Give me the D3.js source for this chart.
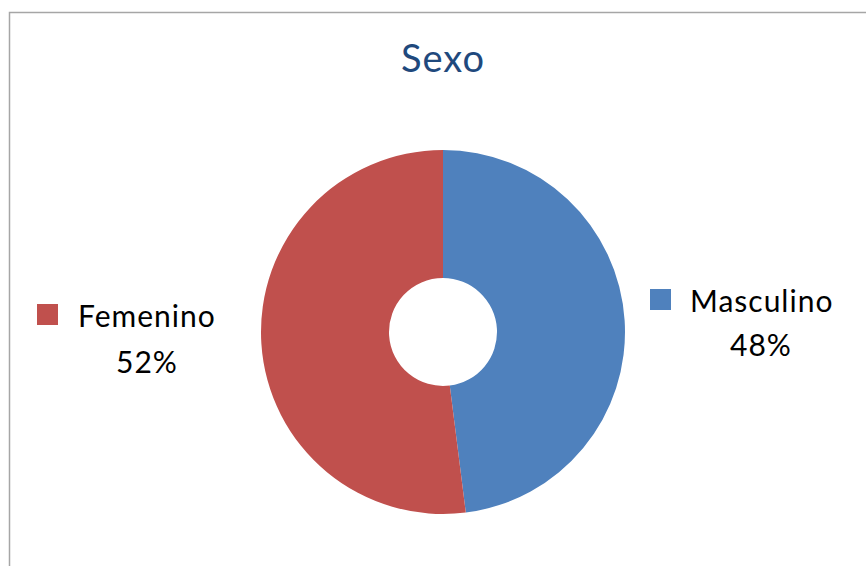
<!DOCTYPE html>
<html>
<head>
<meta charset="utf-8">
<script src="https://d3js.org/d3.v7.min.js"></script>
<style>
  body { margin: 0; background: #fff; }
  text { font-family: Lato, "Open Sans", sans-serif; }
</style>
</head>
<body>
<svg width="866" height="566"></svg>
<script>
const categories = ["Masculino", "Femenino"];
const values = [48, 52];
const colors = ["#4F81BD", "#C0504D"];

const svg = d3.select("svg");

// chart frame (runs off right and bottom edge)
svg.append("rect")
    .attr("x", 9.5).attr("y", 12.5)
    .attr("width", 880).attr("height", 600)
    .attr("fill", "none")
    .attr("stroke", "#a6a6a6")
    .attr("stroke-width", 1.5);

svg.append("text")
    .attr("x", 443).attr("y", 72)
    .attr("text-anchor", "middle")
    .attr("font-size", 38)
    .attr("letter-spacing", 1)
    .attr("fill", "#1F497D")
    .text("Sexo");

const data = categories.map((c, i) => ({ name: c, value: values[i], color: colors[i] }));
const pie = d3.pie().sort(null).value(d => d.value);
const arc = d3.arc().innerRadius(54).outerRadius(182);

svg.append("g")
    .attr("transform", "translate(443,332)")
    .selectAll("path").data(pie(data)).enter()
    .append("path")
    .attr("d", arc)
    .attr("fill", d => d.data.color);

// labels: legend key + name, percent below
const labelPos = {
    Masculino: { key: [650, 289], name: [690, 312], pct: [761, 356] },
    Femenino: { key: [37, 304], name: [78, 327], pct: [147, 373] }
};
const total = d3.sum(values);

data.forEach(d => {
    const p = labelPos[d.name];
    svg.append("rect")
        .attr("x", p.key[0]).attr("y", p.key[1])
        .attr("width", 21).attr("height", 21)
        .attr("fill", d.color);
    svg.append("text")
        .attr("x", p.name[0]).attr("y", p.name[1])
        .attr("font-size", 30)
        .attr("letter-spacing", 1)
        .attr("fill", "#000")
        .text(d.name);
    svg.append("text")
        .attr("x", p.pct[0]).attr("y", p.pct[1])
        .attr("text-anchor", "middle")
        .attr("font-size", 30)
        .attr("letter-spacing", 1)
        .attr("fill", "#000")
        .text(d3.format(".0%")(d.value / total));
});
</script>
</body>
</html>
